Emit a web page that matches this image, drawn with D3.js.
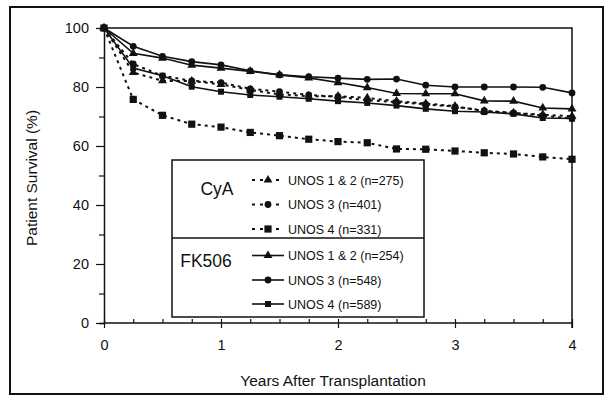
<!DOCTYPE html>
<html>
<head>
<meta charset="utf-8">
<script src="https://cdn.jsdelivr.net/npm/d3@7"></script>
<style>
  body { margin: 0; background: #fff; }
  svg { font-family: "Liberation Sans", Arial, sans-serif; }
</style>
</head>
<body>
<div id="chart"></div>
<script>
let years = [0, 0.25, 0.5, 0.75, 1, 1.25, 1.5, 1.75, 2, 2.25, 2.5, 2.75, 3, 3.25, 3.5, 3.75, 4];

let cyaUnos12 = [100, 84.9, 82.1, 82.0, 80.9, 79.0, 77.5, 76.9, 76.9, 76.3, 75.2, 74.4, 73.5, 71.8, 71.2, 70.6, 70.1];
let cyaUnos3  = [100, 87.8, 83.8, 82.1, 81.5, 79.4, 78.4, 77.3, 76.7, 75.5, 74.9, 74.1, 73.3, 72.0, 71.2, 70.3, 69.3];
let cyaUnos4  = [100, 75.8, 70.4, 67.4, 66.4, 64.6, 63.5, 62.3, 61.5, 61.1, 59.0, 58.9, 58.3, 57.7, 57.3, 56.3, 55.5];
let fkUnos12  = [100, 91.4, 89.8, 87.4, 86.4, 85.3, 84.1, 83.1, 81.5, 79.8, 77.8, 77.7, 77.7, 75.3, 75.2, 72.9, 72.6];
let fkUnos3   = [100, 93.8, 90.4, 88.6, 87.5, 85.5, 84.1, 83.5, 83.0, 82.6, 82.7, 80.6, 80.0, 80.0, 80.0, 79.9, 78.0];
let fkUnos4   = [100, 86.4, 83.8, 80.1, 78.4, 77.3, 76.7, 76.0, 75.2, 74.6, 73.7, 72.6, 71.8, 71.5, 70.9, 69.5, 69.3];

let seriesNames = ['UNOS 1 & 2 (n=275)', 'UNOS 3 (n=401)', 'UNOS 4 (n=331)',
                   'UNOS 1 & 2 (n=254)', 'UNOS 3 (n=548)', 'UNOS 4 (n=589)'];
let seriesValues = [cyaUnos12, cyaUnos3, cyaUnos4, fkUnos12, fkUnos3, fkUnos4];
let seriesSymbols = ['triangle', 'circle', 'square', 'triangle', 'circle', 'square'];
let seriesDashed = [true, true, true, false, false, false];

let yTicks = [0, 20, 40, 60, 80, 100];
let xTicks = [0, 1, 2, 3, 4];

let width = 612, height = 404;
let plot = {left: 104, right: 572, top: 28, bottom: 323};

let svg = d3.select('#chart').append('svg')
    .attr('width', width)
    .attr('height', height);

// outer frame
svg.append('rect')
    .attr('x', 10).attr('y', 7)
    .attr('width', 593).attr('height', 387)
    .attr('fill', 'none').attr('stroke', '#111').attr('stroke-width', 2);

let x = d3.scaleLinear().domain([0, 4]).range([plot.left, plot.right]);
let y = d3.scaleLinear().domain([0, 100]).range([plot.bottom, plot.top]);

// top and right border of plot
svg.append('path')
    .attr('d', `M${plot.left},${plot.top}H${plot.right}V${plot.bottom + 5}`)
    .attr('fill', 'none').attr('stroke', '#111').attr('stroke-width', 1.5);

// y axis
let yAxis = svg.append('g')
    .attr('transform', `translate(${plot.left},0)`)
    .call(d3.axisLeft(y).tickValues(d3.range(0, 101, 10)).tickSize(5)
      .tickFormat(d => yTicks.includes(d) ? d : ''));
yAxis.select('.domain').attr('stroke-width', 1.5).attr('stroke', '#111');
yAxis.selectAll('.tick line').attr('stroke', '#111').attr('stroke-width', 1.2)
    .attr('x2', d => yTicks.includes(d) ? -8 : -5);
yAxis.selectAll('.tick text')
    .attr('x', -15)
    .attr('font-size', 14.5).attr('fill', '#111')
    .attr('font-family', '"Liberation Sans", Arial, sans-serif');

// x axis
let xAxis = svg.append('g')
    .attr('transform', `translate(0,${plot.bottom})`)
    .call(d3.axisBottom(x).tickValues(d3.range(0, 4.01, 0.25)).tickSize(5)
      .tickFormat(d => xTicks.includes(d) ? d : ''));
xAxis.select('.domain').attr('stroke-width', 1.5).attr('stroke', '#111')
    .attr('d', `M${plot.left},0H${plot.right}`);
xAxis.selectAll('.tick line').attr('stroke', '#111').attr('stroke-width', 1.2)
    .attr('y1', -4)
    .attr('y2', d => xTicks.includes(d) ? 5 : 0);
xAxis.selectAll('.tick text')
    .attr('y', 17)
    .attr('font-size', 14.5).attr('fill', '#111')
    .attr('font-family', '"Liberation Sans", Arial, sans-serif');

// axis titles
svg.append('text')
    .attr('transform', `translate(37,178) rotate(-90)`)
    .attr('text-anchor', 'middle')
    .attr('font-size', 15.5).attr('fill', '#111')
    .text('Patient Survival (%)');
svg.append('text')
    .attr('x', 333).attr('y', 386)
    .attr('text-anchor', 'middle')
    .attr('font-size', 15.5).attr('fill', '#111')
    .text('Years After Transplantation');

let symbolSize = {triangle: 34, circle: 36, square: 36};
function symbolPath(name, dashed) {
  let type = name === 'triangle' ? d3.symbolTriangle : name === 'circle' ? d3.symbolCircle : d3.symbolSquare;
  let size = symbolSize[name];
  if (name === 'square' && dashed) size = 52;
  return d3.symbol().type(type).size(size)();
}

let line = d3.line()
    .x((d, i) => x(years[i]))
    .y(d => y(d));

// series
seriesValues.forEach((vals, k) => {
  let g = svg.append('g');
  g.append('path')
    .datum(vals)
    .attr('d', line)
    .attr('fill', 'none')
    .attr('stroke', '#111')
    .attr('stroke-width', seriesDashed[k] ? 2 : 1.6)
    .attr('stroke-dasharray', seriesDashed[k] ? '3,4' : null);
  g.selectAll('path.pt')
    .data(vals)
    .enter().append('path')
      .attr('class', 'pt')
      .attr('transform', (d, i) => `translate(${x(years[i])},${y(d)})`)
      .attr('d', symbolPath(seriesSymbols[k], seriesDashed[k]))
      .attr('fill', '#111');
});

// legend
let legend = {left: 172, top: 160, right: 424, bottom: 317, divider: 238};
svg.append('rect')
    .attr('x', legend.left).attr('y', legend.top)
    .attr('width', legend.right - legend.left).attr('height', legend.bottom - legend.top)
    .attr('fill', '#fff').attr('stroke', '#111').attr('stroke-width', 1.5);
svg.append('line')
    .attr('x1', legend.left).attr('x2', legend.right)
    .attr('y1', legend.divider).attr('y2', legend.divider)
    .attr('stroke', '#111').attr('stroke-width', 1.5);

svg.append('text').attr('x', 217).attr('y', 194.5)
    .attr('text-anchor', 'middle').attr('font-size', 17.5).attr('fill', '#111').text('CyA');
svg.append('text').attr('x', 206).attr('y', 266.5)
    .attr('text-anchor', 'middle').attr('font-size', 17.5).attr('fill', '#111').text('FK506');

let rowY = [180, 204.5, 229, 255.5, 280, 304];
seriesNames.forEach((name, k) => {
  let gy = rowY[k];
  svg.append('line')
    .attr('x1', 252).attr('x2', 284)
    .attr('y1', gy).attr('y2', gy)
    .attr('stroke', '#111')
    .attr('stroke-width', seriesDashed[k] ? 2 : 1.6)
    .attr('stroke-dasharray', seriesDashed[k] ? '3,5' : null);
  svg.append('path')
    .attr('transform', `translate(268,${gy})`)
    .attr('d', symbolPath(seriesSymbols[k], seriesDashed[k]))
    .attr('fill', '#111');
  svg.append('text')
    .attr('x', 288).attr('y', gy + 4.5)
    .attr('font-size', 12.5).attr('fill', '#111')
    .text(name);
});
</script>
</body>
</html>
